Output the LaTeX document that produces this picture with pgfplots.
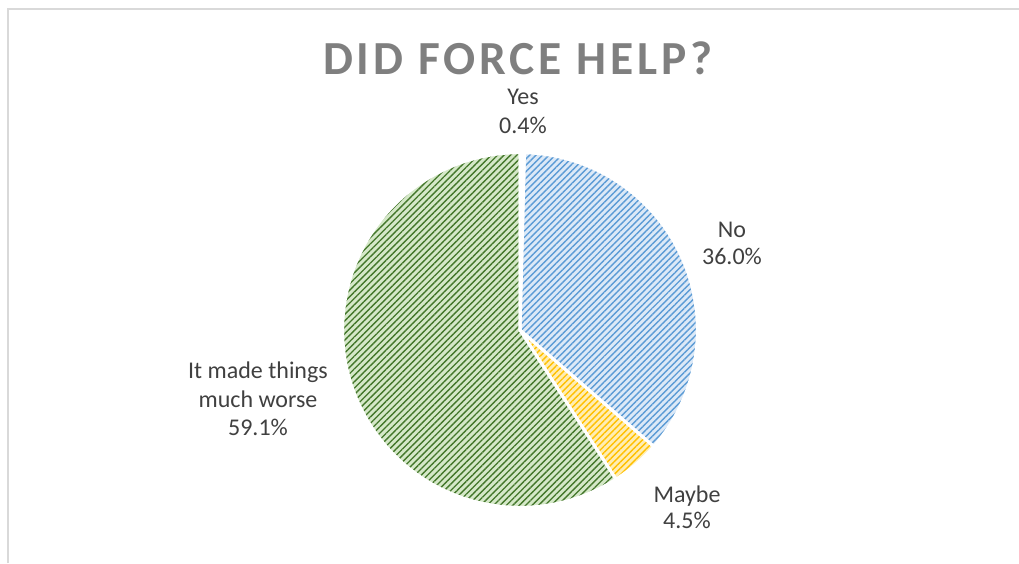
\documentclass[border=0pt]{standalone}
\usepackage{pgfplots}
\pgfplotsset{compat=1.18}
\usepackage{pgfplotstable}
\usepackage{fontspec}
\setmainfont{Carlito}
\newfontfamily\titlefont[LetterSpace=8.3]{Carlito}
\usetikzlibrary{patterns.meta}
\definecolor{labelgray}{HTML}{404040}
\definecolor{titlegray}{HTML}{7F7F7F}
\definecolor{framegray}{HTML}{D9D9D9}
\definecolor{bluefill}{HTML}{DCE9F7}
\definecolor{blueline}{HTML}{5B9BD5}
\definecolor{yellowfill}{HTML}{FFEDB3}
\definecolor{yellowline}{HTML}{FFC000}
\definecolor{greenfill}{HTML}{D5E8C8}
\definecolor{greenline}{HTML}{43762A}

\pgfplotstableread{
label value
Yes 0.4
No 36.0
Maybe 4.5
Worse 59.1
}\piedata
\def\R{133pt}
\def\sector#1#2{(axis cs:520,330) -- ++(#1:\R) arc[start angle=#1, end angle=#2, radius=\R] -- cycle}

\begin{document}
\begin{tikzpicture}
\pgfplotstablegetelem{0}{value}\of\piedata \let\vA=\pgfplotsretval
\pgfplotstablegetelem{1}{value}\of\piedata \let\vB=\pgfplotsretval
\pgfplotstablegetelem{2}{value}\of\piedata \let\vC=\pgfplotsretval
\pgfplotstablegetelem{3}{value}\of\piedata \let\vD=\pgfplotsretval
\pgfmathsetmacro\aA{90}
\pgfmathsetmacro\aB{\aA-3.6*\vA}
\pgfmathsetmacro\aC{\aB-3.6*\vB}
\pgfmathsetmacro\aD{\aC-3.6*\vC}
\pgfmathsetmacro\aE{\aD-3.6*\vD}
\begin{axis}[
  name=ax,
  width=764.25pt, height=422.25pt, scale only axis,
  xmin=0, xmax=1019, ymin=0, ymax=563, y dir=reverse,
  hide axis, clip=false,
]
\draw[framegray, line width=1.5pt] (axis cs:8,563) -- (axis cs:8,9) -- (axis cs:1019,9);
% slices
\fill[white] \sector{\aA}{\aB};
\fill[bluefill] \sector{\aB}{\aC};
\fill[pattern={Lines[angle=45,distance=3.4pt,line width=1.05pt]}, pattern color=blueline] \sector{\aB}{\aC};
\fill[yellowfill] \sector{\aC}{\aD};
\fill[pattern={Lines[angle=45,distance=3.4pt,line width=1.05pt]}, pattern color=yellowline] \sector{\aC}{\aD};
\fill[greenfill] \sector{\aD}{\aE};
\fill[pattern={Lines[angle=45,distance=3.4pt,line width=1.0pt]}, pattern color=greenline] \sector{\aD}{\aE};
\draw[white, line width=2.2pt, line join=round] \sector{\aA}{\aB};
\draw[white, line width=2.2pt, line join=round] \sector{\aB}{\aC};
\draw[white, line width=2.2pt, line join=round] \sector{\aC}{\aD};
\draw[white, line width=2.2pt, line join=round] \sector{\aD}{\aE};
% title
\node[anchor=base, text=titlegray, inner sep=0pt] at (axis cs:518,75) {\titlefont\fontsize{35.6}{40}\selectfont\bfseries DID FORCE HELP?};
% labels
\begin{scope}[every node/.style={anchor=base, text=labelgray, inner sep=0pt, font=\fontsize{18}{22}\selectfont}]
\node at (axis cs:523,105) {Yes};
\node at (axis cs:523,133) {0.4\%};
\node at (axis cs:732,237) {No};
\node at (axis cs:732,264) {36.0\%};
\node at (axis cs:687,502) {Maybe};
\node at (axis cs:687,528) {4.5\%};
\node at (axis cs:258,378) {It made things};
\node at (axis cs:258,407) {much worse};
\node at (axis cs:258,435) {59.1\%};
\end{scope}
\end{axis}
\pgfresetboundingbox
\path[use as bounding box] (ax.south west) rectangle (ax.north east);
\end{tikzpicture}
\end{document}
